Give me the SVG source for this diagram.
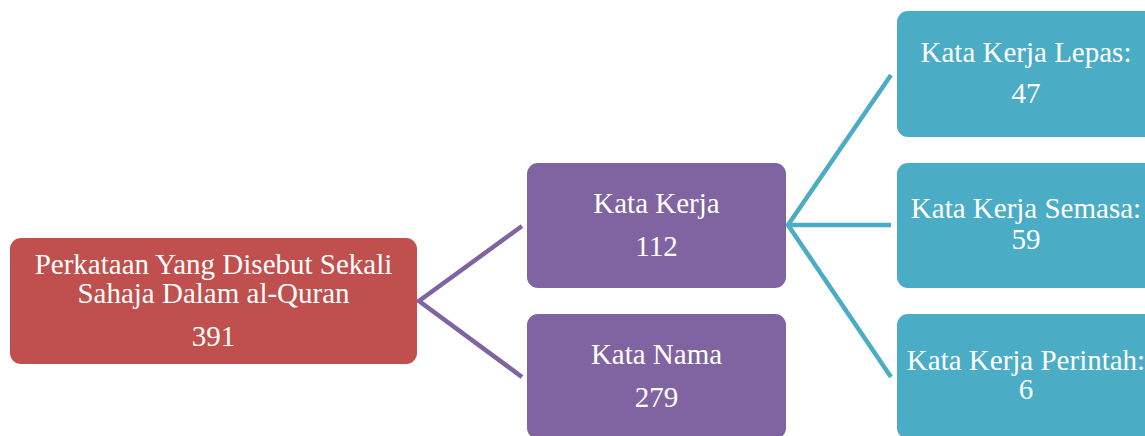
<svg xmlns="http://www.w3.org/2000/svg" width="1145" height="436" viewBox="0 0 1145 436">
<style>
text{font-family:"Liberation Serif","Times New Roman",serif;font-size:29px;fill:#ffffff;text-anchor:middle}
.red{fill:#C0504D}
.pur{fill:#8064A2}
.teal{fill:#4BACC6}
.cp{stroke:#8064A2;stroke-width:4.5;fill:none}
.ct{stroke:#4BACC6;stroke-width:4.5;fill:none}
</style>
<rect width="1145" height="436" fill="#ffffff"/>
<g id="connectors">
<polyline class="cp" points="522,226 419,301 522,377"/>
<polyline class="ct" points="891,75 788,225 891,377"/>
<line class="ct" x1="788" y1="225" x2="891" y2="225"/>
</g>
<g id="root">
<rect class="red" x="10" y="238" width="407" height="126" rx="11"/>
<text x="213.5" y="274">Perkataan Yang Disebut Sekali</text>
<text x="213.5" y="303">Sahaja Dalam al-Quran</text>
<text x="213.5" y="346">391</text>
</g>
<g id="kata-kerja">
<rect class="pur" x="527" y="163" width="259" height="125" rx="11"/>
<text x="656.5" y="213">Kata Kerja</text>
<text x="656.5" y="256">112</text>
</g>
<g id="kata-nama">
<rect class="pur" x="527" y="314" width="259" height="125" rx="11"/>
<text x="656.5" y="364">Kata Nama</text>
<text x="656.5" y="407">279</text>
</g>
<g id="lepas">
<rect class="teal" x="897" y="11" width="259" height="126" rx="11"/>
<text x="1026" y="62">Kata Kerja Lepas:</text>
<text x="1026" y="103">47</text>
</g>
<g id="semasa">
<rect class="teal" x="897" y="163" width="259" height="125" rx="11"/>
<text x="1026" y="218">Kata Kerja Semasa:</text>
<text x="1026" y="249">59</text>
</g>
<g id="perintah">
<rect class="teal" x="897" y="314" width="259" height="125" rx="11"/>
<text x="1026" y="370">Kata Kerja Perintah:</text>
<text x="1026" y="399">6</text>
</g>
</svg>
